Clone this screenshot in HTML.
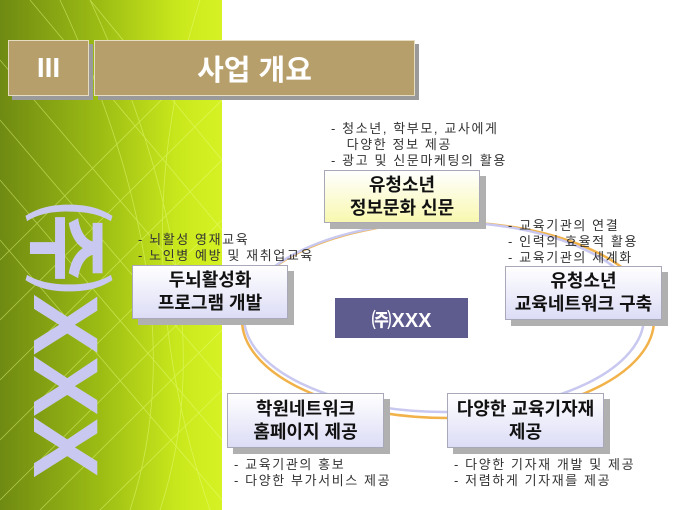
<!DOCTYPE html>
<html><head><meta charset="utf-8"><style>
body{margin:0;width:680px;height:510px;overflow:hidden;background:#fff;position:relative;font-family:"Liberation Sans","Noto Sans CJK KR","NanumGothic",sans-serif}
.abs{position:absolute}
.green{left:0;top:0;width:222px;height:510px;background:linear-gradient(90deg,#6f8a12 0%,#9cbc14 45%,#c9e81c 80%,#d6f224 100%)}
.bar{background:#b79f6b;border:1px solid #e6dcc0;color:#fff;font-weight:bold;display:flex;align-items:center;justify-content:center;box-shadow:4px 4px 0 #9a9a9a}
.box{border:1px solid #a8a8b8;display:flex;align-items:center;justify-content:center;text-align:center;font-weight:bold;font-size:18px;line-height:23px;color:#111;box-shadow:6px 6px 0 #b0b0b0;white-space:nowrap}
.lav{background:linear-gradient(180deg,#ffffff,#dcdcf6)}
.yel{background:linear-gradient(180deg,#ffffff,#f8f8b0)}
.t{font-size:13px;line-height:16px;color:#333;white-space:pre;letter-spacing:1.6px}
</style></head><body>
<div class="abs green"></div>
<svg class="abs" style="left:0;top:0" width="222" height="510">
<g stroke="#e8ff80" stroke-width="0.8" fill="none" opacity="0.5">
<path d="M0 260 L222 40 M0 320 L222 100 M0 380 L222 160 M0 440 L222 220 M0 500 L222 280 M40 510 L222 330 M100 510 L222 390"/>
<path d="M0 120 L222 380 M0 180 L222 440 M0 240 L222 500 M0 60 L222 320 M30 0 L222 230 M90 0 L222 160"/>
<path d="M60 0 Q200 300 130 510 M90 0 Q230 300 160 510 M200 0 Q120 250 210 510"/>
</g></svg>
<div class="abs" style="left:-85px;top:295px;width:300px;height:90px;transform:rotate(90deg);color:#c8c8f0;font-weight:bold;font-size:92px;line-height:90px;text-align:center;letter-spacing:0px;white-space:nowrap">㈜XXX</div>
<div class="abs bar" style="left:8px;top:40px;width:79px;height:54px;font-size:28px">III</div>
<div class="abs bar" style="left:94px;top:40px;width:319px;height:54px;font-size:29px">사업 개요</div>
<svg class="abs" style="left:0;top:0" width="680" height="510">
<ellipse cx="448" cy="320" rx="206" ry="98" fill="none" stroke="#f2b24a" stroke-width="2.5"/>
<ellipse cx="444" cy="317" rx="200" ry="95" fill="none" stroke="#c8c8f0" stroke-width="2.5"/>
</svg>
<div class="abs t" style="left:331px;top:121px">- 청소년, 학부모, 교사에게
   다양한 정보 제공
- 광고 및 신문마케팅의 활용</div>
<div class="abs box yel" style="left:324px;top:170px;width:154px;height:51px">유청소년<br>정보문화 신문</div>
<div class="abs t" style="left:508px;top:218px">- 교육기관의 연결
- 인력의 효율적 활용
- 교육기관의 세계화</div>
<div class="abs box lav" style="left:505px;top:266px;width:155px;height:52px">유청소년<br>교육네트워크 구축</div>
<div class="abs t" style="left:138px;top:232px">- 뇌활성 영재교육
- 노인병 예방 및 재취업교육</div>
<div class="abs box lav" style="left:132px;top:265px;width:154px;height:52px">두뇌활성화<br>프로그램 개발</div>
<div class="abs" style="left:335px;top:298px;width:133px;height:40px;background:#5e5b8f;color:#fff;font-weight:bold;font-size:20px;display:flex;align-items:center;justify-content:center">㈜XXX</div>
<div class="abs box lav" style="left:227px;top:393px;width:155px;height:53px">학원네트워크<br>홈페이지 제공</div>
<div class="abs box lav" style="left:447px;top:393px;width:155px;height:53px">다양한 교육기자재<br>제공</div>
<div class="abs t" style="left:234px;top:457px">- 교육기관의 홍보
- 다양한 부가서비스 제공</div>
<div class="abs t" style="left:454px;top:457px">- 다양한 기자재 개발 및 제공
- 저렴하게 기자재를 제공</div>
</body></html>
